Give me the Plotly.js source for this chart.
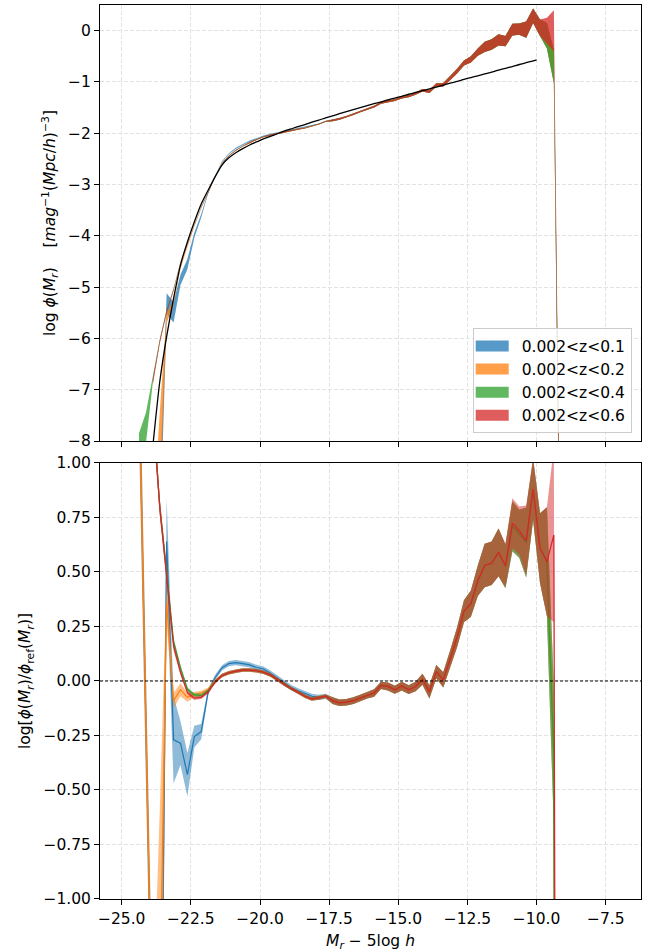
<!DOCTYPE html>
<html>
<head>
<meta charset="utf-8">
<script src="https://cdn.plot.ly/plotly-3.0.1.min.js"></script>
<style>html,body{margin:0;padding:0;background:#fff}#chart{width:657px;height:952px}</style>
</head>
<body>
<div id="chart"></div>
<script>
// ---- data ----
const magBins = [-24.375,-24.125,-23.875,-23.625,-23.375,-23.125,-22.875,-22.625,-22.375,-22.125,-21.875,-21.625,-21.375,-21.125,-20.875,-20.625,-20.375,-20.125,-19.875,-19.625,-19.375,-19.125,-18.875,-18.625,-18.375,-18.125,-17.875,-17.625,-17.375,-17.125,-16.875,-16.625,-16.375,-16.125,-15.875,-15.625,-15.375,-15.125,-14.875,-14.625,-14.375,-14.125,-13.875,-13.625,-13.375,-13.125,-12.875,-12.625,-12.375,-12.125,-11.875,-11.625,-11.375,-11.125,-10.875,-10.625,-10.375,-10.125,-9.875,-9.625,-9.375,-9.125];

const seriesLabels = ['0.002<z<0.1','0.002<z<0.2','0.002<z<0.4','0.002<z<0.6'];

// log phi (top panel)
const logPhiZ01 = [-10.0,-9.5,-9.9,-9.45,-5.32,-5.49,-4.86,-4.55,-3.99,-3.61,-3.16,-2.835,-2.56,-2.40,-2.296,-2.22,-2.156,-2.108,-2.055,-2.024,-1.995,-1.97,-1.945,-1.915,-1.888,-1.855,-1.82,-1.77,
  -1.75,-1.72,-1.677,-1.63,-1.578,-1.525,-1.48,-1.41,-1.375,-1.355,-1.303,-1.28,-1.23,-1.162,-1.185,-1.057,-1.055,-0.925,-0.79,-0.63,-0.56,-0.42,-0.315,-0.27,-0.18,-0.205,0.02,0.03,0.02,0.29,0.055,-0.1,-0.7,-12];
const logPhiZ02 = [-10.0,-9.5,-9.9,-8.35,-5.60,-5.31,-4.61,-4.195,-3.79,-3.435,-3.15,-2.85,-2.595,-2.442,-2.335,-2.25,-2.18,-2.123,-2.07,-2.033,-2.003,-1.975,-1.95,-1.922,-1.90,-1.868,-1.823,-1.77,
  -1.75,-1.72,-1.677,-1.63,-1.578,-1.525,-1.48,-1.41,-1.375,-1.355,-1.303,-1.28,-1.23,-1.162,-1.185,-1.057,-1.055,-0.925,-0.79,-0.63,-0.56,-0.42,-0.315,-0.27,-0.18,-0.205,0.02,0.03,0.02,0.29,0.055,-0.1,-0.7,-12];
const logPhiZ04 = [-8.2,-7.75,-6.8,-6.05,-5.46,-5.04,-4.51,-4.157,-3.794,-3.446,-3.155,-2.855,-2.595,-2.442,-2.335,-2.25,-2.18,-2.123,-2.07,-2.033,-2.003,-1.975,-1.95,-1.922,-1.90,-1.868,-1.823,-1.77,
  -1.75,-1.72,-1.677,-1.63,-1.578,-1.525,-1.48,-1.41,-1.375,-1.355,-1.303,-1.28,-1.23,-1.162,-1.185,-1.057,-1.055,-0.925,-0.79,-0.63,-0.56,-0.42,-0.315,-0.27,-0.18,-0.205,0.02,0.03,0.02,0.29,0.055,-0.1,-0.7,-12];
const logPhiZ06 = [null,null,-6.85,-6.07,-5.48,-5.06,-4.53,-4.172,-3.809,-3.455,-3.16,-2.855,-2.595,-2.442,-2.335,-2.25,-2.18,-2.123,-2.07,-2.033,-2.003,-1.975,-1.95,-1.922,-1.90,-1.868,-1.823,-1.77,
  -1.75,-1.72,-1.677,-1.63,-1.578,-1.525,-1.48,-1.41,-1.375,-1.355,-1.303,-1.28,-1.23,-1.162,-1.185,-1.057,-1.055,-0.925,-0.79,-0.63,-0.56,-0.42,-0.315,-0.27,-0.18,-0.205,0.02,0.03,0.02,0.29,0.055,0.0,0.0,-12];

// log ratio to reference (bottom panel)
const ratioZ01 = [1.4,-0.2,-1.8,-2.6,0.64,-0.27,-0.285,-0.43,-0.255,-0.232,-0.05,0.015,0.06,0.08,0.084,0.08,0.074,0.062,0.055,0.036,0.015,-0.01,-0.03,-0.045,-0.058,-0.07,-0.075,-0.07,
  -0.09,-0.10,-0.097,-0.09,-0.078,-0.065,-0.055,-0.02,-0.025,-0.04,-0.023,-0.04,-0.025,0.008,-0.05,0.043,0.005,0.10,0.20,0.32,0.355,0.46,0.53,0.54,0.59,0.525,0.71,0.675,0.635,0.88,0.61,0.547,-0.35,-11.5];
const ratioZ02 = [1.4,-0.2,-1.8,-1.5,0.36,-0.09,-0.04,-0.075,-0.062,-0.055,-0.04,0.0,0.025,0.038,0.045,0.05,0.05,0.047,0.04,0.027,0.007,-0.015,-0.035,-0.052,-0.07,-0.083,-0.078,-0.07,
  -0.09,-0.10,-0.097,-0.09,-0.078,-0.065,-0.055,-0.02,-0.025,-0.04,-0.023,-0.04,-0.025,0.008,-0.05,0.043,0.005,0.10,0.20,0.32,0.355,0.46,0.53,0.54,0.59,0.525,0.71,0.675,0.635,0.88,0.61,0.547,-0.35,-11.5];
const ratioZ04 = [2.7,1.55,1.25,0.80,0.50,0.18,0.06,-0.037,-0.064,-0.066,-0.045,-0.005,0.025,0.038,0.045,0.05,0.05,0.047,0.04,0.027,0.007,-0.015,-0.035,-0.052,-0.07,-0.083,-0.078,-0.07,
  -0.09,-0.10,-0.097,-0.09,-0.078,-0.065,-0.055,-0.02,-0.025,-0.04,-0.023,-0.04,-0.025,0.008,-0.05,0.043,0.005,0.10,0.20,0.32,0.355,0.46,0.53,0.54,0.59,0.525,0.71,0.675,0.635,0.88,0.61,0.547,-0.35,-11.5];
const ratioZ06 = [null,null,1.25,0.80,0.48,0.16,0.04,-0.052,-0.079,-0.075,-0.05,-0.005,0.025,0.038,0.045,0.05,0.05,0.047,0.04,0.027,0.007,-0.015,-0.035,-0.052,-0.07,-0.083,-0.078,-0.07,
  -0.09,-0.10,-0.097,-0.09,-0.078,-0.065,-0.055,-0.02,-0.025,-0.04,-0.023,-0.04,-0.025,0.008,-0.05,0.043,0.005,0.10,0.20,0.32,0.355,0.46,0.53,0.54,0.59,0.53,0.723,0.69,0.645,0.88,0.61,0.547,0.67,-11.5];

// 1-sigma errors in dex (same for both panels)
const errZ01 = [0.25,0.25,0.25,0.6,0.2,0.2,0.1,0.1,0.05,0.035,0.015,0.012,0.012,0.012,0.012,0.012,0.012,0.012,0.012,0.012,0.012,0.012,0.012,0.012,0.012,0.012,0.012,0.012,
  0.015,0.015,0.015,0.015,0.015,0.015,0.017,0.017,0.018,0.018,0.02,0.02,0.022,0.025,0.03,0.03,0.035,0.04,0.045,0.05,0.06,0.07,0.1,0.1,0.11,0.1,0.115,0.11,0.16,0.14,0.16,0.25,0.32,0.5];
const errZ02 = [0.25,0.25,0.25,0.9,0.1,0.035,0.03,0.02,0.012,0.01,0.01,0.008,0.008,0.008,0.008,0.008,0.008,0.008,0.008,0.008,0.008,0.008,0.008,0.008,0.008,0.008,0.008,0.008,
  0.015,0.015,0.015,0.015,0.015,0.015,0.017,0.017,0.018,0.018,0.02,0.02,0.022,0.025,0.03,0.03,0.035,0.04,0.045,0.05,0.06,0.07,0.1,0.1,0.11,0.1,0.115,0.11,0.16,0.14,0.16,0.25,0.32,0.5];
const errZ04 = [0.35,0.3,0.06,0.04,0.03,0.02,0.012,0.01,0.008,0.008,0.008,0.008,0.008,0.008,0.008,0.008,0.008,0.008,0.008,0.008,0.008,0.008,0.008,0.008,0.008,0.008,0.008,0.008,
  0.015,0.015,0.015,0.015,0.015,0.015,0.017,0.017,0.018,0.018,0.02,0.02,0.022,0.025,0.03,0.03,0.035,0.04,0.045,0.05,0.06,0.07,0.1,0.1,0.11,0.1,0.115,0.11,0.16,0.14,0.16,0.25,0.32,0.5];
const errZ06 = [null,null,0.06,0.04,0.03,0.02,0.012,0.01,0.008,0.008,0.008,0.008,0.008,0.008,0.008,0.008,0.008,0.008,0.008,0.008,0.008,0.008,0.008,0.008,0.008,0.008,0.008,0.008,
  0.015,0.015,0.015,0.015,0.015,0.015,0.017,0.017,0.018,0.018,0.02,0.02,0.022,0.025,0.03,0.03,0.035,0.04,0.045,0.05,0.06,0.07,0.1,0.1,0.11,0.1,0.115,0.11,0.16,0.14,0.16,0.25,0.4,0.5];

// reference luminosity function (black curve)
const refMag = [-24.0,-23.875,-23.625,-23.375,-23.125,-22.875,-22.625,-22.375,-22.125,-21.875,-21.625,-21.375,-21.125,-20.875,-20.625,-20.375,-20.125,-19.875,-19.625,-19.375,-19.125,-18.875,-18.625,-18.375,-18.125,-17.875,-17.625,-17.375,-17.125,-16.875,-16.625,-16.375,-16.125,-15.875,-15.625,-15.375,-15.125,-14.875,-14.625,-14.375,-14.125,-13.875,-13.625,-13.375,-13.125,-12.875,-12.625,-12.375,-12.125,-11.875,-11.625,-11.375,-11.125,-10.875,-10.625,-10.375,-10.125,-10.0];
const refLogPhi = [-8.8,-8.1,-6.85,-5.96,-5.22,-4.57,-4.12,-3.73,-3.38,-3.11,-2.85,-2.62,-2.48,-2.38,-2.30,-2.23,-2.17,-2.11,-2.06,-2.01,-1.96,-1.915,-1.87,-1.83,-1.785,-1.745,-1.70,-1.66,-1.62,-1.58,-1.54,-1.50,-1.46,-1.425,-1.39,-1.35,-1.315,-1.28,-1.24,-1.205,-1.17,-1.135,-1.10,-1.06,-1.025,-0.99,-0.95,-0.915,-0.88,-0.845,-0.81,-0.77,-0.735,-0.70,-0.66,-0.625,-0.59,-0.57];

const xTickVals = [-25,-22.5,-20,-17.5,-15,-12.5,-10,-7.5];
const xTickText = ['−25.0','−22.5','−20.0','−17.5','−15.0','−12.5','−10.0','−7.5'];
const yTopTickVals = [0,-1,-2,-3,-4,-5,-6,-7,-8];
const yTopTickText = ['0','−1','−2','−3','−4','−5','−6','−7','−8'];
const yBotTickVals = [1,0.75,0.5,0.25,0,-0.25,-0.5,-0.75,-1];
const yBotTickText = ['1.00','0.75','0.50','0.25','0.00','−0.25','−0.50','−0.75','−1.00'];

// ---- build traces ----
const rgb = ['31,119,180','255,127,14','44,160,44','214,39,40'];
const topVals = [logPhiZ01, logPhiZ02, logPhiZ04, logPhiZ06];
const botVals = [ratioZ01, ratioZ02, ratioZ04, ratioZ06];
const errs = [errZ01, errZ02, errZ04, errZ06];

function bandPoly(vals, err) {
  const xs = [], hi = [], lo = [];
  for (let i = 0; i < magBins.length; i++) {
    if (vals[i] === null) continue;
    xs.push(magBins[i]); hi.push(vals[i] + err[i]); lo.push(vals[i] - err[i]);
  }
  return {x: xs.concat(xs.slice().reverse()), y: hi.concat(lo.slice().reverse())};
}
function linePts(vals) {
  const xs = [], ys = [];
  for (let i = 0; i < magBins.length; i++) {
    if (vals[i] === null) continue;
    xs.push(magBins[i]); ys.push(vals[i]);
  }
  return {x: xs, y: ys};
}

const traces = [];
for (let s = 0; s < 4; s++) {
  const p = bandPoly(topVals[s], errs[s]);
  traces.push({type:'scatter', mode:'lines', x:p.x, y:p.y, xaxis:'x', yaxis:'y',
    fill:'toself', fillcolor:'rgba(' + rgb[s] + ',0.75)', line:{width:0, color:'rgba(' + rgb[s] + ',0.75)'},
    name: seriesLabels[s], legendgroup:'g' + s, showlegend:true, hoverinfo:'skip'});
}
traces.push({type:'scatter', mode:'lines', x:refMag, y:refLogPhi, xaxis:'x', yaxis:'y',
  line:{color:'#000', width:1.3, shape:'spline', smoothing:0.6}, showlegend:false, hoverinfo:'skip'});
for (let s = 0; s < 4; s++) {
  const p = bandPoly(botVals[s], errs[s]);
  traces.push({type:'scatter', mode:'lines', x:p.x, y:p.y, xaxis:'x2', yaxis:'y2',
    fill:'toself', fillcolor:'rgba(' + rgb[s] + ',0.5)', line:{width:0},
    legendgroup:'g' + s, showlegend:false, hoverinfo:'skip'});
  const l = linePts(botVals[s]);
  traces.push({type:'scatter', mode:'lines', x:l.x, y:l.y, xaxis:'x2', yaxis:'y2',
    line:{color:'rgb(' + rgb[s] + ')', width:1.2}, legendgroup:'g' + s, showlegend:false, hoverinfo:'skip'});
}

const gridCol = '#e3e3e3';
const axisCommon = {showline:true, mirror:true, linecolor:'#000', linewidth:1, ticks:'outside', ticklen:5,
  tickwidth:1, tickcolor:'#000', showgrid:true, gridcolor:gridCol, gridwidth:1, griddash:'4px,2px', zeroline:false};

const layout = {
  width:657, height:952,
  margin:{l:100, r:16, t:5, b:53},
  paper_bgcolor:'#fff', plot_bgcolor:'#fff',
  font:{family:'DejaVu Sans', size:15.5, color:'#000'},
  showlegend:true,
  legend:{x:0.9828, xanchor:'right', y:0.5209, yanchor:'bottom', bgcolor:'rgba(255,255,255,0.8)',
    bordercolor:'#cccccc', borderwidth:1, font:{size:15.5}, itemwidth:38, tracegroupgap:0},
  xaxis: Object.assign({}, axisCommon, {domain:[0,1], anchor:'y', range:[-25.785,-6.224],
    tickvals:xTickVals, ticktext:xTickText, showticklabels:false}),
  xaxis2: Object.assign({}, axisCommon, {domain:[0,1], anchor:'y2', range:[-25.785,-6.224], matches:'x',
    tickvals:xTickVals, ticktext:xTickText,
    title:{text:'<i>M<sub>r</sub></i> − 5log <i>h</i>', standoff:8, font:{size:15.5}}}),
  yaxis: Object.assign({}, axisCommon, {domain:[0.5123,1], anchor:'x', range:[-8,0.5],
    tickvals:yTopTickVals, ticktext:yTopTickText,
    title:{text:'log <i>ϕ</i>(<i>M<sub>r</sub></i>)\u00a0\u00a0\u00a0\u00a0[<i>mag</i><sup>−1</sup>(<i>Mpc</i>/<i>h</i>)<sup>−3</sup>]', standoff:8, font:{size:15.5}}}),
  yaxis2: Object.assign({}, axisCommon, {domain:[0,0.4877], anchor:'x2', range:[-1,1],
    tickvals:yBotTickVals, ticktext:yBotTickText,
    title:{text:'log[<i>ϕ</i>(<i>M<sub>r</sub></i>)/<i>ϕ</i><sub>ref</sub>(<i>M<sub>r</sub></i>)]', standoff:8, font:{size:15.5}}}),
  shapes:[{type:'line', xref:'x2 domain', x0:0, x1:1, yref:'y2', y0:0, y1:0,
    line:{color:'#000', width:1, dash:'3px,2px'}}]
};

Plotly.newPlot('chart', traces, layout, {staticPlot:true, displayModeBar:false}).then(function (gd) {
  // matplotlib-like rectangular legend patches
  gd.querySelectorAll('.legend .legendfill path').forEach(function (p) {
    p.setAttribute('d', 'M2,-5.5h33v11h-33z');
  });
  gd.querySelectorAll('.legend .legendlines path').forEach(function (p) {
    p.style.display = 'none';
  });
});
</script>
</body>
</html>
